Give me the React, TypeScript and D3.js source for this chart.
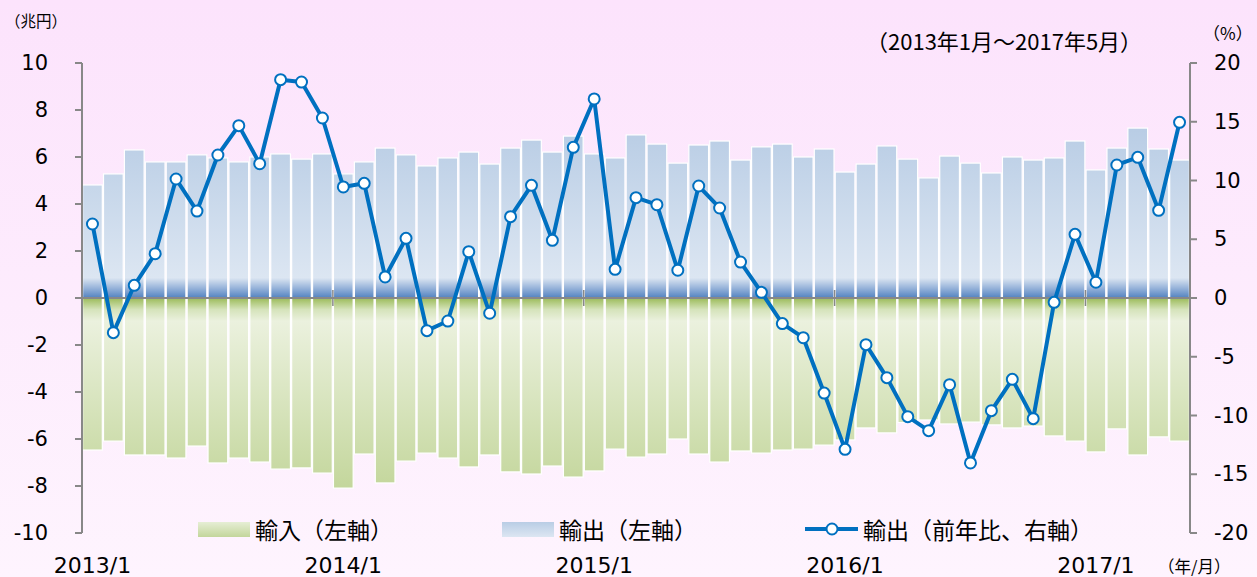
import React from 'react';
import * as d3 from 'd3';

// 2013/1 - 2017/5
const months = [
  '2013/1', '2013/2', '2013/3', '2013/4', '2013/5', '2013/6', '2013/7', '2013/8', '2013/9', '2013/10', '2013/11', '2013/12',
  '2014/1', '2014/2', '2014/3', '2014/4', '2014/5', '2014/6', '2014/7', '2014/8', '2014/9', '2014/10', '2014/11', '2014/12',
  '2015/1', '2015/2', '2015/3', '2015/4', '2015/5', '2015/6', '2015/7', '2015/8', '2015/9', '2015/10', '2015/11', '2015/12',
  '2016/1', '2016/2', '2016/3', '2016/4', '2016/5', '2016/6', '2016/7', '2016/8', '2016/9', '2016/10', '2016/11', '2016/12',
  '2017/1', '2017/2', '2017/3', '2017/4', '2017/5',
];

// 輸出 (兆円)
const exportsVal = [
  4.81, 5.28, 6.30, 5.79, 5.79, 6.09, 5.96, 5.79, 6.00, 6.13, 5.91, 6.13,
  5.28, 5.79, 6.38, 6.09, 5.62, 5.96, 6.21, 5.70, 6.38, 6.72, 6.21, 6.89,
  6.13, 5.96, 6.94, 6.55, 5.74, 6.51, 6.68, 5.87, 6.43, 6.55, 6.00, 6.34,
  5.36, 5.70, 6.47, 5.91, 5.11, 6.04, 5.74, 5.32, 6.00, 5.87, 5.96, 6.68,
  5.45, 6.38, 7.23, 6.34, 5.87,
];

// 輸入 (兆円, negative)
const importsVal = [
  -6.47, -6.09, -6.68, -6.68, -6.81, -6.30, -7.02, -6.81, -6.98, -7.28, -7.23, -7.45,
  -8.09, -6.64, -7.87, -6.94, -6.60, -6.81, -7.19, -6.68, -7.40, -7.49, -7.15, -7.62,
  -7.36, -6.43, -6.77, -6.64, -6.00, -6.64, -6.98, -6.51, -6.60, -6.47, -6.43, -6.26,
  -6.04, -5.53, -5.74, -5.30, -5.19, -5.36, -5.28, -5.40, -5.53, -5.45, -5.87, -6.09,
  -6.55, -5.57, -6.68, -5.91, -6.09,
];

// 輸出 前年比 (%)
const exportsYoY = [
  6.3, -2.95, 1.08, 3.77, 10.13, 7.4, 12.17, 14.67, 11.43, 18.58, 18.38, 15.32,
  9.45, 9.76, 1.79, 5.08, -2.78, -1.96, 3.94, -1.3, 6.92, 9.59, 4.91, 12.82,
  16.94, 2.44, 8.54, 7.94, 2.36, 9.53, 7.66, 3.06, 0.48, -2.18, -3.38, -8.09,
  -12.88, -3.97, -6.78, -10.1, -11.29, -7.38, -14.04, -9.59, -6.92, -10.27, -0.37, 5.42,
  1.34, 11.32, 11.97, 7.46, 14.95,
];

const leftTicks = [10, 8, 6, 4, 2, 0, -2, -4, -6, -8, -10];
const rightTicks = [20, 15, 10, 5, 0, -5, -10, -15, -20];
const yearLabels = ['2013/1', '2014/1', '2015/1', '2016/1', '2017/1'];

const W = 1257;
const H = 577;
const left = 82;
const right = 1190;
const top = 63;
const bottom = 533;

const NUM_FONT = '"DejaVu Sans", Verdana, sans-serif';
const JP_FONT = '"Noto Sans CJK JP", "DejaVu Sans", sans-serif';
const LINE = '#0070C0';
const AXIS = '#888888';

export default function App() {
  const x = d3.scaleBand<string>().domain(months).range([left, right]);
  const bw = x.bandwidth();
  const yL = d3.scaleLinear().domain([-10, 10]).range([bottom, top]);
  const yR = d3.scaleLinear().domain([-20, 20]).range([bottom, top]);
  const y0 = yL(0);

  const line = d3
    .line<number>()
    .x((d, i) => (x(months[i]) as number) + bw / 2)
    .y((d) => yR(d));

  return (
    <svg
      width={W}
      height={H}
      style={{ position: 'absolute', left: 0, top: 0, display: 'block' }}
    >
      <defs>
        <linearGradient id="bg" x1="0" y1="0" x2="0" y2="1">
          <stop offset="0%" stopColor="#FCE3FC" />
          <stop offset="100%" stopColor="#FEF4FE" />
        </linearGradient>
        <linearGradient id="exp" gradientUnits="userSpaceOnUse" x1="0" y1={130} x2="0" y2={y0}>
          <stop offset="0%" stopColor="#B9CDE5" />
          <stop offset="88%" stopColor="#DCE6F2" />
          <stop offset="94%" stopColor="#98B4DA" />
          <stop offset="100%" stopColor="#5282C0" />
        </linearGradient>
        <linearGradient id="imp" gradientUnits="userSpaceOnUse" x1="0" y1={y0} x2="0" y2={490}>
          <stop offset="0%" stopColor="#9BBB59" />
          <stop offset="6%" stopColor="#D5E3BA" />
          <stop offset="12%" stopColor="#EBF1DE" />
          <stop offset="100%" stopColor="#C3D69B" />
        </linearGradient>
        <linearGradient id="legImp" x1="0" y1="0" x2="0" y2="1">
          <stop offset="0%" stopColor="#E6EED5" />
          <stop offset="100%" stopColor="#C3D69B" />
        </linearGradient>
        <linearGradient id="legExp" x1="0" y1="0" x2="0" y2="1">
          <stop offset="0%" stopColor="#B9CDE5" />
          <stop offset="100%" stopColor="#DCE6F2" />
        </linearGradient>
      </defs>

      <rect x={0} y={0} width={W} height={H} fill="url(#bg)" />

      {/* bars */}
      {months.map((m, i) => (
        <g key={m}>
          <rect
            x={(x(m) as number) + 0.6}
            y={yL(exportsVal[i])}
            width={bw - 1.2}
            height={y0 - yL(exportsVal[i])}
            fill="url(#exp)"
            stroke="#fff"
            strokeWidth={1.2}
          />
          <rect
            x={(x(m) as number) + 0.6}
            y={y0}
            width={bw - 1.2}
            height={yL(importsVal[i]) - y0}
            fill="url(#imp)"
            stroke="#fff"
            strokeWidth={1.2}
          />
        </g>
      ))}

      {/* zero axis with year ticks */}
      <line x1={left} x2={right} y1={y0} y2={y0} stroke={AXIS} strokeWidth={2} />
      {yearLabels.slice(1).map((m) => (
        <line
          key={m}
          x1={x(m) as number}
          x2={x(m) as number}
          y1={y0 - 8}
          y2={y0 + 8}
          stroke={AXIS}
          strokeWidth={1.5}
        />
      ))}

      {/* left axis */}
      <line x1={left} x2={left} y1={top} y2={bottom} stroke={AXIS} strokeWidth={2} />
      {leftTicks.map((t) => (
        <g key={'l' + t}>
          <line x1={left - 7} x2={left} y1={yL(t)} y2={yL(t)} stroke={AXIS} strokeWidth={2} />
          <text
            x={48}
            y={yL(t)}
            textAnchor="end"
            dominantBaseline="central"
            fontFamily={NUM_FONT}
            fontSize={21}
            fill="#000"
          >
            {t}
          </text>
        </g>
      ))}

      {/* right axis */}
      <line x1={right} x2={right} y1={top} y2={bottom} stroke={AXIS} strokeWidth={2} />
      {rightTicks.map((t) => (
        <g key={'r' + t}>
          <line x1={right} x2={right + 7} y1={yR(t)} y2={yR(t)} stroke={AXIS} strokeWidth={2} />
          <text
            x={1214}
            y={yR(t)}
            textAnchor="start"
            dominantBaseline="central"
            fontFamily={NUM_FONT}
            fontSize={21}
            fill="#000"
          >
            {t}
          </text>
        </g>
      ))}

      {/* line series */}
      <path d={line(exportsYoY) || ''} fill="none" stroke={LINE} strokeWidth={4} strokeLinejoin="round" />
      {exportsYoY.map((v, i) => (
        <circle
          key={i}
          cx={(x(months[i]) as number) + bw / 2}
          cy={yR(v)}
          r={5.5}
          fill="#fff"
          stroke={LINE}
          strokeWidth={2}
        />
      ))}

      {/* x labels */}
      {yearLabels.map((m) => (
        <text
          key={m}
          x={(x(m) as number) + bw / 2}
          y={573}
          textAnchor="middle"
          fontFamily={NUM_FONT}
          fontSize={22}
          fill="#000"
        >
          {m}
        </text>
      ))}
      <text x={1158} y={566} dominantBaseline="central" fontFamily={JP_FONT} fontSize={16.5} fill="#000">
        （年/月）
      </text>

      {/* unit labels */}
      <text x={5} y={20} dominantBaseline="central" fontFamily={JP_FONT} fontSize={15.5} fill="#000">
        （兆円）
      </text>
      <text x={1203} y={32} dominantBaseline="central" fontFamily={JP_FONT} fontSize={17} fill="#000">
        （%）
      </text>
      <text x={866} y={40} dominantBaseline="central" fontFamily={JP_FONT} fontSize={22} fill="#000">
        （2013年1月～2017年5月）
      </text>

      {/* legend */}
      <rect x={198} y={522} width={52} height={15} fill="url(#legImp)" />
      <text x={255} y={529} dominantBaseline="central" fontFamily={JP_FONT} fontSize={23} fill="#000">
        輸入（左軸）
      </text>
      <rect x={502} y={522} width={52} height={15} fill="url(#legExp)" />
      <text x={559} y={529} dominantBaseline="central" fontFamily={JP_FONT} fontSize={23} fill="#000">
        輸出（左軸）
      </text>
      <line x1={805} x2={858} y1={529} y2={529} stroke={LINE} strokeWidth={4} />
      <circle cx={832} cy={529} r={5.5} fill="#fff" stroke={LINE} strokeWidth={2} />
      <text x={863} y={529} dominantBaseline="central" fontFamily={JP_FONT} fontSize={23} fill="#000">
        輸出（前年比、右軸）
      </text>
    </svg>
  );
}
